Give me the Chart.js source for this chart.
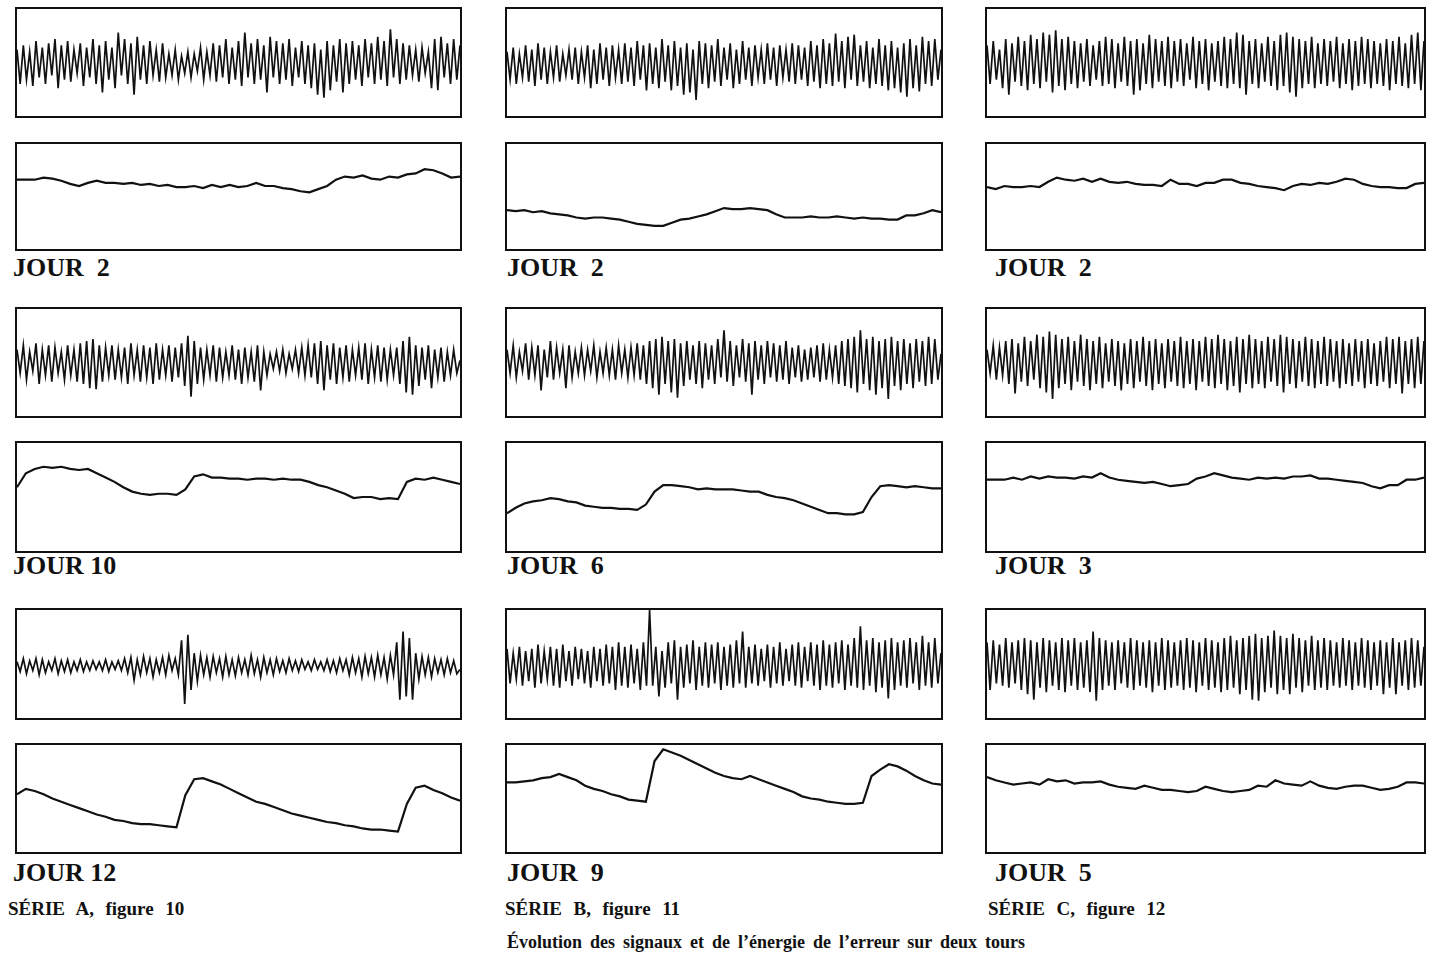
<!DOCTYPE html>
<html lang="fr">
<head>
<meta charset="utf-8">
<title>Évolution des signaux et de l'énergie de l'erreur</title>
<script src="https://cdn.jsdelivr.net/npm/chart.js@4.4.1/dist/chart.umd.min.js"></script>
<style>
    html, body { margin: 0; padding: 0; background: #fff; }
    body { width: 1436px; height: 956px; position: relative; overflow: hidden;
           font-family: "Liberation Serif", "DejaVu Serif", serif; font-weight: bold; color: #111; }
    .panel { position: absolute; box-sizing: border-box; border: 2px solid #111; background: #fff; }
    .panel canvas { display: block; }
    .jour { position: absolute; font-size: 26px; line-height: 26px; white-space: pre; }
    .serie { position: absolute; font-size: 19px; line-height: 19px; white-space: pre; word-spacing: 1px; }
    .caption { position: absolute; left: 0; width: 1532px; text-align: center; font-size: 18px; line-height: 18px; word-spacing: 3.5px; }
</style>
</head>
<body>

<script>
// Signal panels (value = % of box height, measured from bottom)
const sigA1 = [62,30,66,34,60,28,70,36,64,30,68,38,72,26,66,34,70,32,62,40,68,28,64,36,72,30,66,22,70,34,64,26,78,38,72,30,68,20,74,34,66,30,70,38,62,32,68,36,58,38,62,34,56,40,60,36,58,42,64,34,60,38,68,32,66,36,72,30,64,34,70,28,78,36,68,30,72,34,66,22,74,36,70,30,68,34,72,28,64,36,70,30,66,26,68,20,62,17,70,24,66,32,72,22,68,30,70,34,66,28,72,36,68,30,74,34,70,28,81,36,72,30,68,34,66,38,62,32,64,40,60,26,72,24,74,36,68,30,72,34,66];
const sigB1 = [60,34,64,30,58,36,66,32,62,28,68,34,64,30,60,36,66,32,58,38,62,34,64,30,60,36,66,26,62,30,68,34,64,28,66,36,62,30,68,32,64,28,70,34,66,24,68,30,64,26,72,32,66,24,70,28,64,20,68,22,62,15,70,30,68,26,66,32,72,28,64,34,68,26,62,30,70,34,64,28,66,36,62,30,68,34,64,28,66,36,62,32,68,30,66,34,64,28,70,32,66,26,72,30,68,28,77,32,70,26,74,34,76,28,66,32,70,26,64,30,72,28,66,24,70,26,64,22,68,18,72,26,66,23,74,30,70,28,72,34,62];
const sigC1 = [66,30,70,34,62,26,72,20,68,32,74,28,70,24,76,30,72,26,78,32,76,22,80,28,72,24,74,30,70,26,68,32,72,28,66,34,70,28,74,30,72,26,68,32,74,28,70,20,72,24,68,30,76,26,72,32,70,28,74,26,70,32,72,28,68,34,74,26,70,30,72,24,68,32,70,28,74,26,72,30,78,26,76,20,70,30,72,26,68,32,74,28,70,24,76,28,78,22,74,18,72,26,70,30,74,26,68,30,72,28,70,32,74,26,68,30,72,24,70,28,74,30,72,26,70,30,68,28,72,24,70,30,74,28,68,26,76,30,78,24,70];
const sigA2 = [62,40,66,34,60,42,68,30,62,38,66,32,64,40,60,34,66,38,62,32,68,30,70,26,72,25,66,32,64,38,66,34,62,36,64,30,68,38,62,32,66,36,64,30,68,34,62,38,66,32,64,36,68,28,75,18,70,30,64,34,62,38,66,32,64,36,60,38,66,34,62,30,64,36,60,32,66,24,60,38,58,44,60,42,62,40,58,44,62,40,64,38,66,36,68,30,70,24,66,34,68,30,64,36,66,32,62,38,64,34,68,30,62,36,66,32,64,34,62,38,64,30,70,22,74,20,66,28,64,34,66,26,62,36,64,32,60,38,62,40,52];
const sigB2 = [62,40,66,36,60,42,68,34,64,38,66,24,62,36,70,34,64,40,62,26,66,36,60,40,64,38,62,42,66,36,60,40,64,38,62,34,66,40,62,36,64,38,68,34,66,30,70,26,72,20,74,30,70,22,72,17,68,28,70,34,66,30,70,26,68,34,66,30,72,36,80,32,70,28,66,36,72,32,68,20,70,34,66,30,70,36,68,32,66,34,70,30,64,36,66,32,62,34,64,36,66,32,68,34,62,36,66,30,70,28,72,26,74,22,80,30,72,24,74,20,70,26,72,16,74,28,70,24,72,30,68,26,72,32,70,28,74,30,72,34,58];
const sigC2 = [62,40,66,34,64,38,70,30,72,21,68,32,74,28,70,34,76,26,74,22,79,16,76,26,72,30,74,24,70,32,76,28,72,24,70,30,74,26,68,32,72,28,70,24,68,30,72,26,70,32,74,28,70,24,72,30,68,26,72,32,70,28,74,26,70,30,72,24,70,32,74,28,72,26,76,30,72,24,70,28,74,22,72,30,76,26,72,30,70,26,74,32,72,28,76,22,74,30,72,26,70,32,74,28,72,26,70,30,74,28,72,32,70,26,72,30,68,28,72,32,70,26,72,30,68,28,70,32,74,26,72,30,74,21,70,30,72,26,74,30,70];
const sigA3 = [52,43,55,41,53,44,55,40,54,42,52,44,55,41,53,43,54,42,52,44,54,43,52,44,53,45,52,44,54,43,52,45,53,44,55,42,56,35,54,40,57,42,55,38,54,42,56,40,58,44,55,40,72,13,77,26,60,34,58,40,56,38,57,42,55,38,57,40,54,39,56,42,54,40,58,41,54,38,56,42,54,40,55,43,53,42,55,44,53,43,54,45,52,44,54,45,52,44,54,43,53,42,55,44,54,40,56,42,55,38,57,41,56,38,58,40,56,36,58,40,70,17,80,20,74,17,60,36,57,40,56,38,55,42,54,40,55,42,53,41,45];
const sigB3 = [64,32,60,36,66,30,62,34,64,28,68,32,62,36,66,30,64,28,68,34,62,30,66,36,64,32,62,28,66,34,64,30,68,32,66,26,70,30,66,28,68,32,64,26,70,30,100,30,66,20,62,28,70,32,72,17,66,28,68,32,72,26,66,30,70,28,68,32,70,26,66,30,68,28,72,32,80,28,66,32,68,30,64,34,68,28,66,32,70,30,64,34,68,30,70,28,66,34,70,30,68,26,72,30,68,28,70,32,72,26,68,30,74,28,85,26,72,30,74,24,70,28,72,18,74,26,70,30,72,28,74,32,70,26,76,30,70,28,74,32,60];
const sigC3 = [70,26,72,32,68,30,74,28,70,32,72,26,74,22,72,17,70,28,74,24,72,30,70,26,74,24,72,30,74,26,70,28,72,24,80,16,74,26,72,30,70,26,72,32,70,28,74,26,72,30,70,28,72,24,70,30,74,26,72,28,70,30,72,26,74,28,72,24,70,30,74,26,72,28,70,24,74,26,76,28,72,22,74,26,76,17,78,16,74,24,76,28,81,22,76,26,74,22,78,28,74,24,72,30,76,26,72,28,74,26,72,30,70,28,74,30,72,26,70,30,74,28,72,26,70,30,72,22,70,28,74,22,70,30,72,26,74,28,72,30,66];

// Error energy panels
const nrgA1 = [66,66,66,68,67,65,62,60,63,65,63,63,62,63,61,62,60,61,59,59,60,58,61,59,61,59,60,63,60,60,58,57,55,54,57,60,66,69,68,70,67,66,69,68,71,72,76,75,72,68,69];
const nrgB1 = [37,36,37,35,36,34,33,32,30,29,30,30,29,28,26,24,23,22,22,25,28,29,31,33,36,39,38,38,39,38,37,33,30,30,30,31,30,30,31,30,29,30,29,29,28,28,32,32,34,37,35];
const nrgC1 = [59,57,60,59,59,60,59,64,68,66,65,67,64,67,64,63,64,62,61,61,60,66,62,62,60,63,63,66,66,63,62,60,59,58,56,60,62,61,63,62,64,67,66,62,60,59,59,58,58,62,63];
const nrgA2 = [59,72,76,78,77,78,76,75,76,72,68,64,59,55,53,52,53,53,52,57,69,71,68,68,67,67,66,67,67,66,67,66,66,64,61,59,56,53,49,50,50,48,49,48,64,67,66,68,66,64,62];
const nrgB2 = [35,40,44,46,47,49,48,46,45,42,41,40,40,39,39,38,43,55,61,61,60,59,57,58,57,57,57,56,55,55,52,50,49,47,44,41,38,35,35,34,34,36,50,60,61,60,59,60,59,58,58];
const nrgC2 = [66,66,66,68,66,69,67,69,68,68,67,69,68,72,68,66,65,64,63,64,62,60,61,62,67,69,72,70,68,67,66,68,67,68,67,69,69,70,67,67,66,65,64,63,60,58,61,61,66,66,68];
const nrgA3 = [54,59,57,54,50,47,44,41,38,35,33,30,29,27,26,26,25,24,23,53,68,69,66,63,59,55,51,47,45,42,39,36,34,32,30,28,27,25,24,22,21,21,20,19,45,60,62,58,55,51,48];
const nrgB3 = [65,65,66,67,69,70,73,70,67,62,59,57,54,52,49,48,47,85,96,93,90,86,82,78,74,71,69,68,71,68,65,62,59,56,52,50,49,47,46,45,45,46,71,77,82,80,76,71,67,64,63];
const nrgC3 = [70,67,65,63,64,65,63,68,66,67,64,65,65,66,63,61,60,59,62,60,58,58,57,56,57,61,59,57,56,57,58,62,61,67,64,63,62,66,62,60,59,61,62,62,60,58,59,61,65,65,64];

// Text
const jourLabels = [['JOUR  2', 'JOUR  2', 'JOUR  2'], ['JOUR 10', 'JOUR  6', 'JOUR  3'], ['JOUR 12', 'JOUR  9', 'JOUR  5']];
const serieLabels = ['SÉRIE  A,  figure  10', 'SÉRIE  B,  figure  11', 'SÉRIE  C,  figure  12'];
const captionText = 'Évolution des signaux et de l’énergie de l’erreur sur deux tours';

// Layout (page pixels)
const colLeft = [15, 505, 985];
const colWidth = [447, 438, 441];
const rowBoxes = [
    { sig: [7, 111], nrg: [142, 109], label: 255 },
    { sig: [307, 111], nrg: [441, 112], label: 553 },
    { sig: [608, 112], nrg: [743, 111], label: 860 }
];
const labelLeft = [13, 507, 995];
const serieLeft = [8, 505, 988];

const grid = [
    [sigA1, nrgA1, sigB1, nrgB1, sigC1, nrgC1],
    [sigA2, nrgA2, sigB2, nrgB2, sigC2, nrgC2],
    [sigA3, nrgA3, sigB3, nrgB3, sigC3, nrgC3]
];

function makePanel(left, top, width, height, values, lineWidth) {
    const box = document.createElement('div');
    box.className = 'panel';
    box.style.left = left + 'px';
    box.style.top = top + 'px';
    box.style.width = width + 'px';
    box.style.height = height + 'px';
    const canvas = document.createElement('canvas');
    canvas.width = width - 4;
    canvas.height = height - 4;
    box.appendChild(canvas);
    document.body.appendChild(box);

    new Chart(canvas.getContext('2d'), {
        type: 'line',
        data: {
            labels: values.map((_, i) => i),
            datasets: [{
                data: values,
                borderColor: '#111',
                borderWidth: lineWidth,
                pointRadius: 0,
                tension: 0,
                fill: false
            }]
        },
        options: {
            responsive: false,
            animation: false,
            events: [],
            layout: { padding: 0 },
            plugins: { legend: { display: false }, tooltip: { enabled: false } },
            scales: {
                x: { display: false, offset: false },
                y: { display: false, min: 0, max: 100 }
            }
        }
    });
}

function addText(cls, left, top, text) {
    const el = document.createElement('div');
    el.className = cls;
    el.style.left = left + 'px';
    el.style.top = top + 'px';
    el.textContent = text;
    document.body.appendChild(el);
}

rowBoxes.forEach((row, r) => {
    for (let c = 0; c < 3; c++) {
        makePanel(colLeft[c], row.sig[0], colWidth[c], row.sig[1], grid[r][c * 2], 1.7);
        makePanel(colLeft[c], row.nrg[0], colWidth[c], row.nrg[1], grid[r][c * 2 + 1], 2.2);
        addText('jour', labelLeft[c], row.label, jourLabels[r][c]);
    }
});

serieLabels.forEach((t, c) => addText('serie', serieLeft[c], 899, t));

const cap = document.createElement('div');
cap.className = 'caption';
cap.style.top = '933px';
cap.textContent = captionText;
document.body.appendChild(cap);
</script>
</body>
</html>
